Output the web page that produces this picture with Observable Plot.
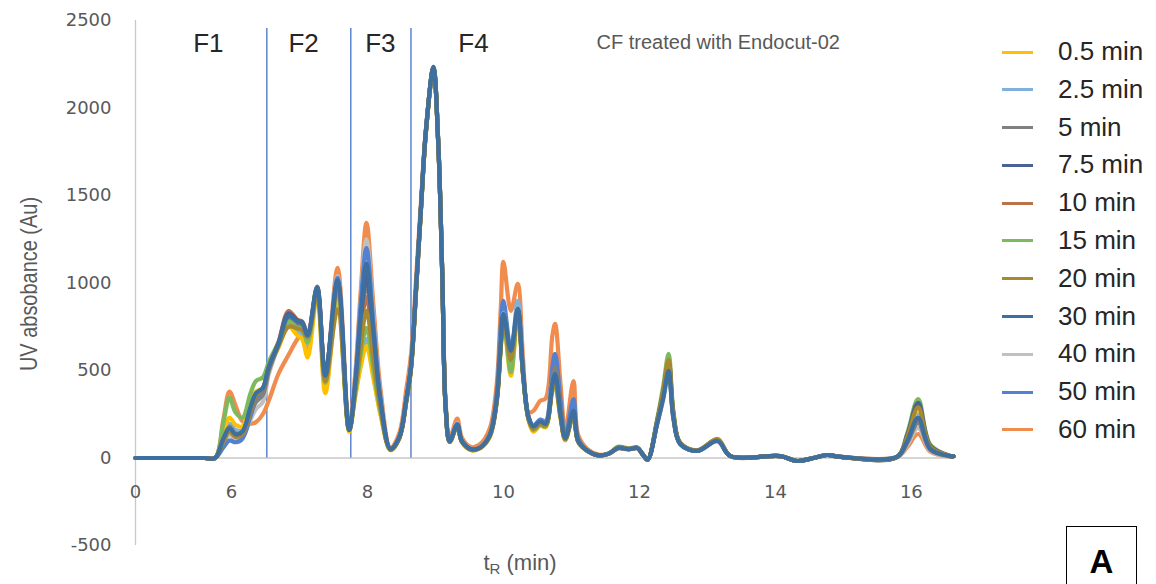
<!DOCTYPE html>
<html>
<head>
<meta charset="utf-8">
<script src="https://cdn.jsdelivr.net/npm/d3@7"></script>
<script src="https://cdn.jsdelivr.net/npm/@observablehq/plot@0.6"></script>
<style>
  html, body { margin: 0; padding: 0; background: #fff; }
  #wrap { position: relative; width: 1156px; height: 584px; overflow: hidden; font-family: "Liberation Sans", Arial, sans-serif; }
  #wrap svg { position: absolute; left: 0; top: 0; }
  .ytitle { position: absolute; left: 29px; top: 284px; transform: translate(-50%, -50%) rotate(-90deg) scale(0.95, 1.1); white-space: nowrap; font-size: 21px; color: #595959; }
  .xtitle { position: absolute; left: 520px; top: 563px; transform: translate(-50%, -50%); white-space: nowrap; font-size: 22px; color: #595959; }
  .xtitle sub { font-size: 15px; vertical-align: -4px; }
  .legend { position: absolute; left: 1002px; top: 33px; }
  .legend .row { position: relative; height: 37.8px; width: 150px; }
  .legend .sw { position: absolute; left: 0; top: 17.5px; width: 31px; height: 3px; }
  .legend .lab { position: absolute; left: 56px; top: 0; line-height: 37.8px; font-size: 26px; color: #262626; white-space: nowrap; }
  .abox { position: absolute; left: 1066px; top: 526px; width: 71px; height: 70px; border: 1.5px solid #000; box-sizing: border-box; text-align: center; font-weight: bold; font-size: 33px; line-height: 70px; color: #000; }
</style>
</head>
<body>
<div id="wrap"></div>
<script>
// ---- data ----
const times = [0, 5.6, 5.76, 5.88, 5.97, 6.06, 6.16, 6.28, 6.36, 6.46, 6.55,
  6.69, 6.84, 6.97, 7.04, 7.12, 7.26, 7.38,
  7.56, 7.73, 7.82, 7.9, 7.985, 8.09, 8.19,
  8.34, 8.47, 8.57, 8.64, 8.72, 8.79, 8.86, 8.97, 9.04, 9.10, 9.15, 9.21, 9.32, 9.39, 9.53,
  9.66, 9.8, 9.9, 9.96, 10.0, 10.11, 10.21, 10.29, 10.37, 10.44, 10.54, 10.62, 10.72, 10.76, 10.84, 10.91, 11.03, 11.1, 11.24, 11.4, 11.55,
  11.69, 11.84, 11.97, 12.05, 12.12, 12.26, 12.35, 12.43, 12.5, 12.6, 12.85, 13.15, 13.34, 14.07, 14.32, 14.56, 14.76, 14.96, 15.79, 15.94, 16.1, 16.28, 16.57, 16.62];

const v05 = [0,0,0, 140,230,190,180,320,380,400,520,
  630,750,700,680,575,930,370,
  900,150,350,520,640,450,250,
  44,112,315,505,985,1440,1860,2225,1805,1045,285,90,180,90,44,
  55,120,310,620,790,470,820,465,215,150,185,175,380,410,225,100,240,90,38,15,25,
  58,50,57,20,-10,203,368,530,243,82,42,102,11,11,-17,0,17,6,6,118,280,62,12,10];
const v25 = [0,0,0, 130,195,160,160,300,360,390,510,
  640,770,720,700,630,940,400,
  930,155,360,540,680,470,260,
  48,118,325,515,995,1445,1870,2230,1810,1050,290,95,188,95,48,
  60,130,340,680,830,600,898,500,235,180,210,195,440,460,250,110,260,95,40,15,25,
  57,50,57,20,-10,200,362,520,240,82,42,100,11,11,-17,0,17,6,6,105,250,56,11,10];
const v5 = [0,0,0, 110,180,140,150,260,320,360,500,
  645,800,770,760,690,960,460,
  990,160,410,760,995,640,310,
  50,118,330,520,1000,1450,1870,2230,1810,1050,290,95,190,95,50,
  60,130,330,660,820,590,850,480,230,175,205,190,440,520,280,112,270,97,40,15,25,
  57,50,57,20,-10,200,360,520,240,82,42,100,11,11,-17,0,17,6,6,88,200,46,11,10];
const v75 = [0,0,0, 100,160,130,145,280,360,395,520,
  655,825,785,775,705,975,475,
  1010,160,410,780,1040,670,320,
  50,120,330,520,1000,1450,1870,2235,1815,1050,290,95,188,95,50,
  60,130,330,650,820,600,850,480,230,175,205,190,420,470,250,110,260,95,40,15,25,
  60,52,58,20,-10,210,380,550,250,84,42,102,11,11,-17,0,17,6,6,132,315,70,12,10];
const v10 = [0,0,0, 110,165,130,145,285,365,395,520,
  660,840,790,780,710,980,480,
  980,165,400,720,920,600,300,
  48,118,325,515,995,1445,1865,2230,1810,1050,290,95,185,95,48,
  60,130,330,640,810,580,840,475,225,170,200,190,410,450,240,110,255,95,40,15,25,
  58,50,57,20,-10,205,375,545,248,83,42,100,11,11,-17,0,17,6,6,125,300,66,12,10];
const v15 = [0,0,0, 200,345,260,230,370,440,460,550,
  660,780,740,740,660,950,430,
  950,160,370,590,744,500,270,
  46,115,320,510,990,1440,1865,2235,1820,1060,300,92,180,92,46,
  60,125,320,630,800,490,830,470,220,160,190,180,390,420,230,105,245,92,40,15,25,
  65,55,60,22,-10,220,410,595,270,88,44,105,11,11,-17,0,17,6,6,142,337,75,12,10];
const v20 = [0,0,0, 90,150,120,135,270,360,395,515,
  640,750,740,730,690,940,440,
  850,165,380,640,841,560,290,
  46,115,320,510,990,1440,1860,2225,1815,1055,295,92,182,92,46,
  60,125,320,640,800,560,830,470,220,165,195,185,400,440,240,108,250,93,40,15,25,
  62,52,58,20,-10,208,385,560,255,85,43,108,11,11,-17,0,17,6,6,120,290,64,12,10];
const v30 = [0,0,0, 110,170,135,150,290,370,400,520,
  650,812,780,770,700,975,470,
  1015,160,420,800,1110,710,330,
  50,120,330,520,1000,1450,1870,2230,1810,1050,290,95,190,95,50,
  60,130,330,650,824,612,852,480,230,180,210,195,420,480,250,114,270,97,40,15,25,
  57,50,57,20,-10,194,343,498,229,80,40,97,11,11,-17,0,17,6,6,97,229,51,11,10];
const v40 = [0,0,0, 90,130,110,120,220,280,320,480,
  640,790,760,750,680,950,450,
  1040,165,450,900,1250,790,360,
  52,125,340,530,1010,1460,1875,2225,1815,1060,300,100,200,100,52,
  60,130,330,660,830,600,860,485,230,180,210,195,450,500,270,112,265,97,40,15,25,
  55,48,55,20,-10,190,330,480,220,78,40,95,11,11,-17,0,17,6,6,75,172,40,10,10];
const v50 = [0,0,0, 60,100,90,110,240,330,380,510,
  645,800,770,760,680,965,470,
  1030,160,440,880,1200,760,350,
  50,120,335,525,1005,1455,1870,2230,1810,1055,295,98,195,98,50,
  60,135,360,750,898,620,870,490,235,185,220,210,520,595,330,120,337,110,40,15,25,
  57,50,57,20,-10,195,345,500,230,80,40,97,11,11,-17,0,17,6,6,92,215,50,11,10];
const v60 = [0,0,0, 220,380,300,210,195,205,250,330,
  480,590,680,715,715,940,460,
  1087,185,480,950,1344,860,400,
  58,145,390,590,1060,1480,1880,2220,1800,1060,320,115,225,115,62,
  80,170,420,850,1121,841,995,560,260,269,326,340,700,767,420,160,440,130,50,20,25,
  55,50,55,20,-10,200,355,510,235,82,42,105,12,11,-17,0,17,6,6,62,137,35,8,8];

const seriesNames = ["0.5 min", "2.5 min", "5 min", "7.5 min", "10 min", "15 min", "20 min", "30 min", "40 min", "50 min", "60 min"];
const seriesValues = [v05, v25, v5, v75, v10, v15, v20, v30, v40, v50, v60];
const seriesColors = ["#FFC000", "#7FB0DE", "#808080", "#4B6394", "#BC7248", "#7DB95E", "#A8892F", "#3D6FA0", "#C0C0C0", "#5380D0", "#F08C4E"];
const drawOrder = ["60 min", "40 min", "50 min", "2.5 min", "0.5 min", "5 min", "15 min", "10 min", "7.5 min", "20 min", "30 min"];

const xTicks = [0, 6, 8, 10, 12, 14, 16];
const yTicks = [-500, 0, 500, 1000, 1500, 2000, 2500];
const fLabels = ["F1", "F2", "F3", "F4"];
const fLabelTimes = [5.66, 7.06, 8.19, 9.56];
const fBounds = [6.52, 7.755, 8.64];
const annotation = "CF treated with Endocut-02";

// ---- table ----
const table = [];
seriesNames.forEach((name, i) => {
  times.forEach((t, j) => table.push({name, t, v: seriesValues[i][j]}));
});
const colorOf = Object.fromEntries(seriesNames.map((n, i) => [n, seriesColors[i]]));

const lineMarks = drawOrder.map(name => Plot.line(table.filter(d => d.name === name), {
  x: "t", y: "v", stroke: colorOf[name], strokeWidth: 4.2, curve: "catmull-rom", strokeLinejoin: "round", strokeLinecap: "round"
}));

const chart = Plot.plot({
  width: 1156,
  height: 584,
  marginLeft: 135,
  marginRight: 203,
  marginTop: 20,
  marginBottom: 39,
  x: {type: "linear", domain: [0, 5.6, 16.62], range: [135, 203.8, 953], axis: null},
  y: {domain: [-500, 2500], axis: null},
  style: {background: "transparent"},
  marks: [
    Plot.ruleX([0], {stroke: "#C8C8C8", strokeWidth: 1.3}),
    Plot.ruleY([0], {x1: 0, x2: 16.62, stroke: "#C8C8C8", strokeWidth: 1.3}),
    Plot.text(yTicks, {frameAnchor: "left", y: d => d, text: d => String(d), dx: -24, textAnchor: "end", fontSize: 18, fill: "#595959", fontFamily: "DejaVu Sans"}),
    Plot.text(xTicks, {x: d => d, y: () => 0, text: d => String(d), dy: 34, fontSize: 18, fill: "#595959", fontFamily: "DejaVu Sans"}),
    Plot.ruleX(fBounds, {y1: 0, y2: 2455, stroke: "#4472C4", strokeWidth: 1.3}),
    ...lineMarks,
    Plot.text(fLabels, {x: (d, i) => fLabelTimes[i], y: () => 2365, text: d => d, fontSize: 26, fill: "#262626", fontFamily: "Liberation Sans"}),
    Plot.text([annotation], {x: () => 13.16, y: () => 2374, text: d => d, fontSize: 20, fill: "#595959", fontFamily: "Liberation Sans"})
  ]
});

const wrap = document.getElementById("wrap");
wrap.appendChild(chart);

const yt = document.createElement("div");
yt.className = "ytitle";
yt.textContent = "UV absobance (Au)";
wrap.appendChild(yt);

const xt = document.createElement("div");
xt.className = "xtitle";
xt.innerHTML = "t<sub>R</sub> (min)";
wrap.appendChild(xt);

const legend = document.createElement("div");
legend.className = "legend";
seriesNames.forEach((n, i) => {
  const row = document.createElement("div");
  row.className = "row";
  const sw = document.createElement("div");
  sw.className = "sw";
  sw.style.background = seriesColors[i];
  const lab = document.createElement("div");
  lab.className = "lab";
  lab.textContent = n;
  row.appendChild(sw);
  row.appendChild(lab);
  legend.appendChild(row);
});
wrap.appendChild(legend);

const abox = document.createElement("div");
abox.className = "abox";
abox.textContent = "A";
wrap.appendChild(abox);
</script>
</body>
</html>
